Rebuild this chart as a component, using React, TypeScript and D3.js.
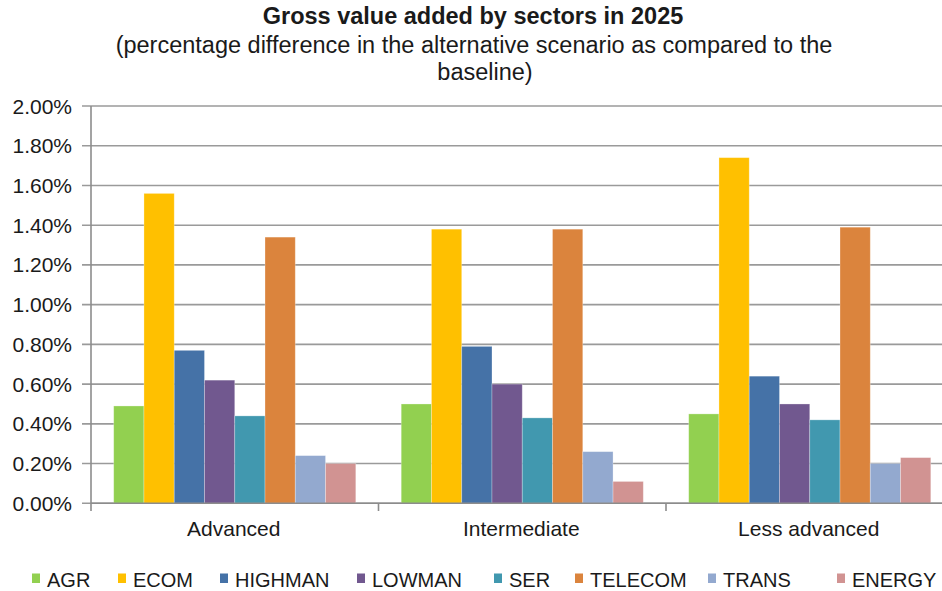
import React from "react";
import * as d3 from "d3";

const categories = ["Advanced", "Intermediate", "Less advanced"];
const seriesNames = ["AGR", "ECOM", "HIGHMAN", "LOWMAN", "SER", "TELECOM", "TRANS", "ENERGY"];
const seriesColors = ["#92d050", "#ffc000", "#4572a7", "#71588f", "#4198af", "#db843d", "#93a9cf", "#d19392"];
// values in percent, per series, in category order
const AGR = [0.49, 0.50, 0.45];
const ECOM = [1.56, 1.38, 1.74];
const HIGHMAN = [0.77, 0.79, 0.64];
const LOWMAN = [0.62, 0.60, 0.50];
const SER = [0.44, 0.43, 0.42];
const TELECOM = [1.34, 1.38, 1.39];
const TRANS = [0.24, 0.26, 0.20];
const ENERGY = [0.20, 0.11, 0.23];
const yTicks = [0, 0.2, 0.4, 0.6, 0.8, 1.0, 1.2, 1.4, 1.6, 1.8, 2.0];
const titleLines = [
  "Gross value added by sectors in 2025",
  "(percentage difference in the alternative scenario as compared to the",
  "baseline)",
];

const seriesValues = [AGR, ECOM, HIGHMAN, LOWMAN, SER, TELECOM, TRANS, ENERGY];

const W = 942;
const H = 591;
const FONT = "'Liberation Sans', Arial, sans-serif";

export default function App() {
  const x0 = d3.scaleBand<string>().domain(categories).range([91, 953.5]).paddingInner(0).paddingOuter(0);
  const x1 = d3
    .scaleBand<string>()
    .domain(seriesNames)
    .range([0, x0.bandwidth()])
    .paddingInner(0)
    .paddingOuter(0.75);
  const y = d3.scaleLinear().domain([0, 2.0]).range([503.3, 106]);
  const fmt = (v: number) => v.toFixed(2) + "%";

  const legendX = [32, 118, 220, 357, 494, 575, 708, 837];

  return (
    <svg
      width={W}
      height={H}
      viewBox={`0 0 ${W} ${H}`}
      style={{ position: "absolute", left: 0, top: 0, background: "#fff", overflow: "hidden" }}
      fontFamily={FONT}
    >
      <rect x={0} y={0} width={W} height={H} fill="#fff" />
      {/* title */}
      <text x={473} y={23.5} textAnchor="middle" fontSize={23.5} fontWeight="bold" fill="#1a1a1a">
        {titleLines[0]}
      </text>
      <text x={474} y={53} textAnchor="middle" fontSize={23.5} fill="#1a1a1a">
        {titleLines[1]}
      </text>
      <text x={485} y={80} textAnchor="middle" fontSize={23.5} fill="#1a1a1a">
        {titleLines[2]}
      </text>

      {/* gridlines */}
      {yTicks.map((t) => (
        <line key={"g" + t} x1={82} x2={W} y1={y(t)} y2={y(t)} stroke="#9a9a9a" strokeWidth={1.6} />
      ))}
      {/* y tick labels */}
      {yTicks.map((t) => (
        <text
          key={"t" + t}
          x={72}
          y={y(t)}
          dy="0.36em"
          textAnchor="end"
          fontSize={21}
          fill="#1a1a1a"
        >
          {fmt(t)}
        </text>
      ))}

      {/* bars */}
      {categories.map((c, ci) => (
        <g key={c} transform={`translate(${x0(c)},0)`}>
          {seriesNames.map((s, si) => {
            const v = seriesValues[si][ci];
            return (
              <rect
                key={s}
                x={x1(s)}
                y={y(v)}
                width={x1.bandwidth()}
                height={y(0) - y(v)}
                fill={seriesColors[si]}
                stroke="#ffffff"
                strokeOpacity={0.35}
                strokeWidth={0.8}
              />
            );
          })}
        </g>
      ))}

      {/* axes */}
      <line x1={91} x2={91} y1={106} y2={511} stroke="#8c8c8c" strokeWidth={1.6} />
      <line x1={91} x2={W} y1={y(0)} y2={y(0)} stroke="#8c8c8c" strokeWidth={1.6} />
      {categories.map((c) => (
        <line
          key={"ct" + c}
          x1={(x0(c) as number) + x0.bandwidth()}
          x2={(x0(c) as number) + x0.bandwidth()}
          y1={y(0)}
          y2={511}
          stroke="#8c8c8c"
          strokeWidth={1.6}
        />
      ))}
      {categories.map((c) => (
        <text
          key={"cl" + c}
          x={(x0(c) as number) + x0.bandwidth() / 2 - 1}
          y={536}
          textAnchor="middle"
          fontSize={21}
          fill="#1a1a1a"
        >
          {c}
        </text>
      ))}

      {/* legend */}
      {seriesNames.map((s, i) => (
        <g key={"l" + s} transform={`translate(${legendX[i]},0)`}>
          <rect x={0} y={573.5} width={8} height={9.5} fill={seriesColors[i]} />
          <text x={15} y={586.5} fontSize={20} fill="#1a1a1a">
            {s}
          </text>
        </g>
      ))}
    </svg>
  );
}
